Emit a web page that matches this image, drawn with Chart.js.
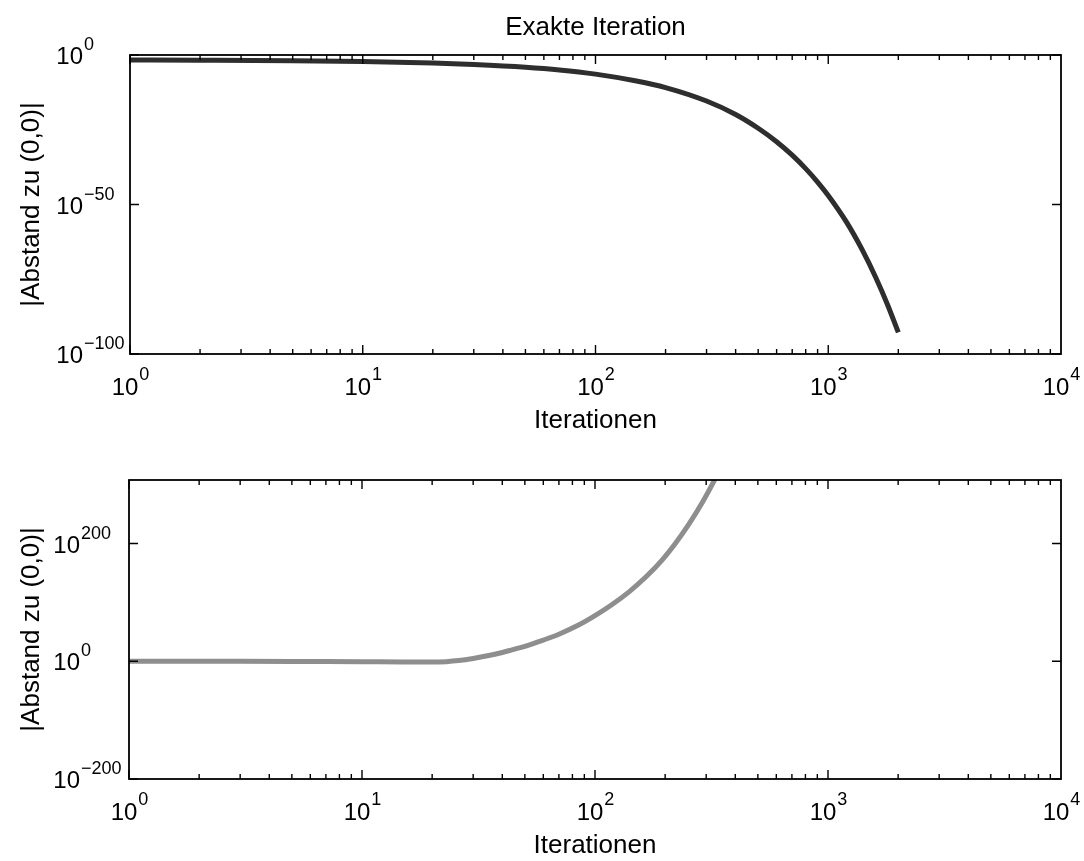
<!DOCTYPE html>
<html>
<head>
<meta charset="utf-8">
<script src="https://cdn.jsdelivr.net/npm/chart.js@4/dist/chart.umd.min.js"></script>
<style>
  html, body { margin: 0; padding: 0; background: #ffffff; }
  canvas { display: block; }
</style>
</head>
<body>
<canvas id="top" width="1084" height="430"></canvas>
<canvas id="bottom" width="1084" height="431"></canvas>
<script>
// ---- Data (y values are decimal exponents: |Abstand| = 10^y) ----
const topIterations = [1, 2, 5, 10, 20, 30, 50, 70, 100, 150, 200, 300, 400, 500, 600, 700, 800, 900, 1000, 1200, 1400, 1600, 1800, 2000];
const topExponents  = [-1.7, -1.75, -1.9, -2.2, -2.7, -3.2, -4.1, -5.0, -6.4, -8.7, -10.9, -15.4, -19.9, -24.5, -29.0, -33.5, -38.0, -42.5, -47.0, -56.0, -65.2, -74.4, -83.6, -92.8];

const bottomIterations = [1, 2, 3, 5, 7, 10, 15, 20, 23, 26, 30, 35, 40, 44, 50, 60, 70, 85, 100, 118, 140, 166, 194, 220, 253, 290, 324, 345];
const bottomExponents  = [0, 0, -0.1, -0.3, -0.5, -0.8, -1.2, -1.3, -0.6, 1.2, 4.8, 9.8, 15, 19.5, 25.5, 36, 46, 61.5, 77.5, 96, 118, 144, 172, 199, 233, 271, 306, 328];

// ---- Tick labels (decimal exponents of 10) ----
const xTickExponents = [0, 1, 2, 3, 4];
const topYTickExponents = [-100, -50, 0];
const bottomYTickExponents = [-200, 0, 200];

const titleText = 'Exakte Iteration';
const xLabelText = 'Iterationen';
const yLabelText = '|Abstand zu (0,0)|';

const FONT = '"Liberation Sans", Arial, Helvetica, sans-serif';

function toPoints(xs, ys) { return xs.map((x, i) => ({ x: x, y: ys[i] })); }
function expStr(e) { return e < 0 ? '\u2212' + Math.abs(e) : String(e); }

function axesPlugin(opts) {
  return {
    id: 'matlabAxes',
    afterDraw(chart) {
      const ctx = chart.ctx;
      const a = chart.chartArea;
      const xs = chart.scales.x, ys = chart.scales.y;
      ctx.save();
      ctx.strokeStyle = '#000';
      ctx.fillStyle = '#000';
      // box
      ctx.lineWidth = 1.8;
      ctx.strokeRect(a.left, a.top, a.right - a.left, a.bottom - a.top);
      // x ticks (inward, bottom and top)
      ctx.lineWidth = 1.4;
      ctx.beginPath();
      for (let d = 0; d < 4; d++) {
        for (let m = 1; m <= 9; m++) {
          const v = m * Math.pow(10, d);
          const px = xs.getPixelForValue(v);
          const len = m === 1 ? 9 : 5;
          ctx.moveTo(px, a.bottom); ctx.lineTo(px, a.bottom - len);
          ctx.moveTo(px, a.top); ctx.lineTo(px, a.top + len);
        }
      }
      // y ticks (inward, left and right)
      opts.yTicks.forEach(e => {
        const py = ys.getPixelForValue(e);
        ctx.moveTo(a.left, py); ctx.lineTo(a.left + 9, py);
        ctx.moveTo(a.right, py); ctx.lineTo(a.right - 9, py);
      });
      ctx.stroke();

      const baseFont = '24px ' + FONT;
      const supFont = '18px ' + FONT;
      // x tick labels
      xTickExponents.forEach(e => {
        const px = xs.getPixelForValue(Math.pow(10, e));
        ctx.font = baseFont;
        const wb = ctx.measureText('10').width;
        ctx.font = supFont;
        const es = expStr(e);
        const we = ctx.measureText(es).width;
        const x0 = px - (wb + we) / 2;
        ctx.textAlign = 'left';
        ctx.textBaseline = 'alphabetic';
        ctx.font = baseFont;
        ctx.fillText('10', x0, a.bottom + 41);
        ctx.font = supFont;
        ctx.fillText(es, x0 + wb + 1, a.bottom + 26);
      });
      // y tick labels
      opts.yTicks.forEach(e => {
        const py = ys.getPixelForValue(e);
        ctx.font = baseFont;
        ctx.textAlign = 'right';
        ctx.textBaseline = 'alphabetic';
        ctx.fillText('10', opts.yBaseRight, py + 9);
        ctx.font = supFont;
        ctx.textAlign = 'left';
        ctx.fillText(expStr(e), opts.yBaseRight + 1, py - 5);
      });
      // axis labels
      const labelFont = '26px ' + FONT;
      ctx.font = labelFont;
      ctx.textAlign = 'center';
      ctx.textBaseline = 'alphabetic';
      const cx = (a.left + a.right) / 2;
      ctx.fillText(xLabelText, cx, a.bottom + 74);
      if (opts.title) ctx.fillText(titleText, cx, a.top - 20);
      ctx.save();
      ctx.translate(39, (a.top + a.bottom) / 2);
      ctx.rotate(-Math.PI / 2);
      ctx.fillText(yLabelText, 0, 0);
      ctx.restore();
      ctx.restore();
    }
  };
}

function makeChart(id, xsArr, ysArr, color, yMin, yMax, pad, plugOpts) {
  return new Chart(document.getElementById(id), {
    type: 'line',
    data: {
      datasets: [{
        data: toPoints(xsArr, ysArr),
        borderColor: color,
        borderWidth: 5,
        pointRadius: 0,
        fill: false,
        cubicInterpolationMode: 'monotone',
        clip: 0
      }]
    },
    options: {
      responsive: false,
      devicePixelRatio: 1,
      animation: false,
      parsing: false,
      layout: { padding: pad },
      plugins: { legend: { display: false }, tooltip: { enabled: false }, title: { display: false } },
      scales: {
        x: { type: 'logarithmic', min: 1, max: 10000, display: false },
        y: { type: 'linear', min: yMin, max: yMax, display: false }
      }
    },
    plugins: [axesPlugin(plugOpts)]
  });
}

makeChart('top', topIterations, topExponents, '#2e2e2e', -100, 0,
  { left: 130, right: 23, top: 55, bottom: 76 },
  { yTicks: topYTickExponents, yBaseRight: 83, title: true });

makeChart('bottom', bottomIterations, bottomExponents, '#8e8e8e', -200, 308,
  { left: 129, right: 23, top: 50, bottom: 82 },
  { yTicks: bottomYTickExponents, yBaseRight: 80, title: false });
</script>
</body>
</html>
